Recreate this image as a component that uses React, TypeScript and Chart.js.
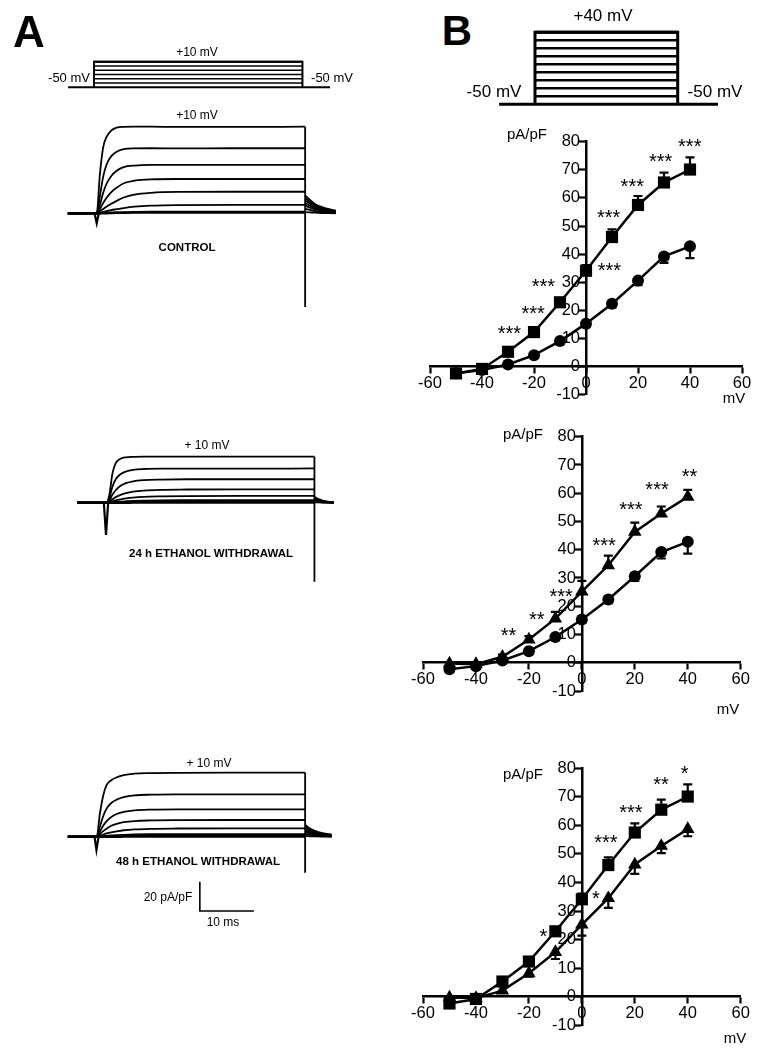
import React, { useEffect, useRef } from "react";
import { Chart, registerables } from "chart.js";

Chart.register(...registerables);

const FONT = '"Liberation Sans", Arial, Helvetica, sans-serif';

// ---------------- Panel B : current density vs voltage (pA/pF) ----------------
const voltages = [-50, -40, -30, -20, -10, 0, 10, 20, 30, 40];
const controlIV = [-2.3, -1.2, 0.8, 4.1, 9.1, 15.3, 22.4, 30.6, 39.2, 42.8];
const controlSEM = [0.4, 0.4, 0.5, 0.8, 1.0, 1.2, 1.3, 1.6, 2.3, 4.2];
const withdrawal24IV = [-0.3, -0.5, 2.1, 8.2, 15.6, 25.2, 34.5, 46.3, 52.8, 58.7];
const withdrawal24SEM = [0.5, 0.5, 0.8, 1.2, 2.4, 3.8, 3.4, 3.3, 2.5, 2.5];
const withdrawal48IV = [-2.4, -0.8, 5.3, 12.3, 22.9, 34.1, 46.1, 57.5, 65.5, 70.1];
const withdrawal48SEM = [0.5, 0.5, 0.7, 0.8, 1.0, 2.0, 2.7, 3.2, 3.5, 4.3];

const ivXRange = [-60, 60];
const ivXStep = 20;
const ivYRange = [-10, 80];
const ivYStep = 10;

// significance marks: [voltage, pA/pF, label]
const starsControlVs48: [number, number, string][] = [
  [-29.5, 13.6, "***"], [-20.3, 20.7, "***"], [-16.4, 30.4, "***"], [9.0, 36.1, "***"],
  [8.7, 54.7, "***"], [17.8, 65.8, "***"], [28.7, 74.6, "***"], [39.9, 80.0, "***"],
];
const starsControlVs24: [number, number, string][] = [
  [-27.7, 11.3, "**"], [-17.0, 17.2, "**"], [-7.8, 25.1, "***"], [8.4, 43.4, "***"],
  [18.5, 55.8, "***"], [28.4, 62.9, "***"], [40.7, 67.6, "**"],
];
const stars24Vs48: [number, number, string][] = [
  [-14.5, 22.8, "*"], [5.3, 36.0, "*"], [9.1, 55.8, "***"], [18.5, 66.3, "***"],
  [29.9, 76.1, "**"], [38.8, 80.0, "*"],
];

// ---------------- Voltage protocols (mV) ----------------
const holdingPotential = -50;
const protocolALevels = [-40, -30, -20, -10, 0, 10];
const protocolBLevels = [-40, -30, -20, -10, 0, 10, 20, 30, 40];
const protocolAHoldT = [-4.8, 43.7];
const protocolBHoldT = [-9.7, 49.5];
const stepEnd = 38.6; // ms

// ---------------- Panel A : current traces (ms, pA/pF) ----------------
const stepTimes = [-5.35, 0, 0.6, 1.2, 1.8, 2.7, 3.7, 5, 7, 10, 15, 25, 38.6];

const controlTraces = [
  [0, 0, 27, 45, 52, 56.5, 58.5, 59.0, 59.1, 59.1, 59.0, 59.0, 59.1],
  [0, 0, 12, 25, 33, 39, 42, 43.8, 44.3, 44.4, 44.3, 44.4, 44.4],
  [0, 0, 6, 14, 20, 25.5, 29, 31.5, 32.6, 33.0, 33.0, 33.0, 33.0],
  [0, 0, 3, 7, 10.5, 14.5, 17.5, 20.5, 22.3, 23.2, 23.4, 23.4, 23.4],
  [0, 0, 1.5, 3, 4.5, 6.5, 8.5, 10.8, 12.8, 14.0, 14.6, 14.7, 14.7],
  [0, 0, 0.5, 1, 1.5, 2.2, 2.8, 3.6, 4.5, 5.2, 5.6, 5.7, 5.7],
  [0, 0, 0, 0.1, 0.2, 0.3, 0.4, 0.5, 0.6, 0.7, 0.7, 0.7, 0.7],
];
const controlTailTimes = [38.6, 39.5, 40.4, 41.7, 44.3];
const controlTails = [
  [12.3, 9.1, 6.4, 4.3, 1.8],
  [10.5, 7.8, 5.5, 3.6, 1.4],
  [8.8, 6.5, 4.6, 3.0, 1.1],
  [7.0, 5.2, 3.7, 2.4, 0.8],
  [5.2, 3.9, 2.8, 1.8, 0.5],
  [3.0, 2.3, 1.6, 1.0, 0.2],
  [0.8, 0.6, 0.4, 0.2, 0.0],
];
const controlOnsetT = [-0.4, 0, 0.4];
const controlOnsetI = [0, -6.8, 0];
const controlOffsetI = [59.1, -64];

const w24Traces = [
  [0, 0, 5, 20, 27, 30, 31, 31.3, 31.4, 31.4, 31.4, 31.4, 31.4],
  [0, 0, 3, 11, 16, 19.5, 21.3, 22.4, 23.0, 23.2, 23.2, 23.2, 23.4],
  [0, 0, 1.5, 5.5, 8.5, 11.5, 13.3, 14.6, 15.4, 15.8, 16.0, 16.0, 16.0],
  [0, 0, 0.7, 2.3, 3.8, 5.3, 6.5, 7.5, 8.3, 8.8, 9.0, 9.1, 9.1],
  [0, 0, 0.3, 1, 1.6, 2.3, 2.9, 3.5, 4.0, 4.3, 4.5, 4.6, 4.6],
  [0, 0, 0.1, 0.3, 0.5, 0.8, 1.0, 1.2, 1.4, 1.6, 1.7, 1.8, 1.8],
  [0, 0, 0, 0, 0.1, 0.1, 0.1, 0.2, 0.2, 0.3, 0.3, 0.3, 0.3],
];
const w24TailTimes = [38.6, 39.2, 40, 41, 42.2];
const w24Tails = [
  [4.1, 2.6, 1.6, 0.8, 0.3],
  [3.4, 2.2, 1.3, 0.6, 0.2],
  [2.7, 1.8, 1.0, 0.5, 0.1],
  [2.0, 1.3, 0.8, 0.4, 0.1],
  [1.4, 0.9, 0.5, 0.3, 0.0],
  [0.8, 0.5, 0.3, 0.1, 0.0],
  [0.3, 0.2, 0.1, 0.0, 0.0],
];
const w24OnsetT = [-0.4, 0, 0.4];
const w24OnsetI = [0, -22, 0];
const w24OffsetI = [31.4, -54];

const w48Traces = [
  [0, 0, 16, 28, 35, 38.5, 40.5, 42, 43, 43.4, 43.6, 43.7, 43.7],
  [0, 0, 7, 14, 19, 23, 25.3, 27, 28.2, 28.7, 28.9, 28.9, 28.9],
  [0, 0, 3.5, 7.5, 10.5, 13.5, 15.5, 17, 18, 18.5, 18.7, 18.7, 18.7],
  [0, 0, 1.8, 3.8, 5.5, 7.5, 8.8, 9.9, 10.7, 11.1, 11.3, 11.4, 11.4],
  [0, 0, 0.7, 1.5, 2.2, 3, 3.7, 4.4, 5, 5.4, 5.6, 5.7, 5.7],
  [0, 0, 0.2, 0.4, 0.6, 0.9, 1.1, 1.3, 1.5, 1.7, 1.8, 1.8, 1.8],
  [0, 0, 0, 0, 0.1, 0.1, 0.1, 0.2, 0.2, 0.3, 0.3, 0.3, 0.3],
];
const w48TailTimes = [38.6, 39.5, 40.5, 41.8, 43.5];
const w48Tails = [
  [8.0, 5.5, 3.8, 2.5, 1.5],
  [6.6, 4.6, 3.1, 2.0, 1.1],
  [5.3, 3.7, 2.5, 1.6, 0.8],
  [4.0, 2.8, 1.9, 1.2, 0.6],
  [2.8, 2.0, 1.3, 0.8, 0.3],
  [1.6, 1.1, 0.7, 0.4, 0.1],
  [0.4, 0.3, 0.2, 0.1, 0.0],
];
const w48OnsetT = [-0.4, -0.05, 0.35];
const w48OnsetI = [0, -9, 0];
const w48OffsetI = [43.7, -24.6];

// scale bar: 10 ms x 20 pA/pF
const scaleBarT = [19.1, 19.1, 29.1];
const scaleBarI = [-30.7, -50.7, -50.7];

// ---------------- helpers ----------------
const pts = (xs: number[], ys: number[]) => xs.map((x, i) => ({ x, y: ys[i] }));

function axisRange(v0: number, p0: number, pxPerUnit: number, start: number, size: number, vertical: boolean) {
  if (vertical) return { min: v0 + (p0 - (start + size)) / pxPerUnit, max: v0 + (p0 - start) / pxPerUnit };
  return { min: v0 + (start - p0) / pxPerUnit, max: v0 + (start + size - p0) / pxPerUnit };
}

function lineDs(data: any[], width: number, extra: any = {}) {
  return {
    data, borderColor: "#000", backgroundColor: "#000", borderWidth: width,
    pointRadius: 0, fill: false, clip: false, tension: 0, ...extra,
  };
}

type Box = { left: number; top: number; width: number; height: number };

function plainConfig(xr: any, yr: any, datasets: any[]) {
  return {
    type: "line",
    data: { datasets },
    options: {
      animation: false, responsive: false, maintainAspectRatio: false, events: [],
      layout: { padding: 0 },
      plugins: { legend: { display: false }, tooltip: { enabled: false } },
      scales: {
        x: { type: "linear", display: false, ...xr },
        y: { type: "linear", display: false, ...yr },
      },
    },
  } as any;
}

const PX_PER_MS = 5.4;
const PX_PER_PAPF = 1.465;

function traceConfig(box: Box, onsetPx: number, baselinePx: number, traces: number[][], tailTimes: number[], tails: number[][], onT: number[], onI: number[], offI: number[], extra: any[] = []) {
  const xr = axisRange(0, onsetPx, PX_PER_MS, box.left, box.width, false);
  const yr = axisRange(0, baselinePx, PX_PER_PAPF, box.top, box.height, true);
  const ds: any[] = [];
  traces.forEach((vals, i) => ds.push(lineDs(pts(stepTimes, vals), i === traces.length - 1 ? 2.8 : 1.8, { cubicInterpolationMode: "monotone" })));
  tails.forEach((vals) => ds.push(lineDs(pts(tailTimes, vals), 1.8, { cubicInterpolationMode: "monotone" })));
  ds.push(lineDs(pts(onT, onI), 2.2));
  ds.push(lineDs(pts([stepEnd, stepEnd], offI), 1.8));
  extra.forEach((d) => ds.push(d));
  return plainConfig(xr, yr, ds);
}

function protocolConfig(box: Box, onsetPx: number, pxPerMs: number, holdPx: number, pxPerMv: number, levels: number[], holdT: number[], outer: number, inner: number) {
  const xr = axisRange(0, onsetPx, pxPerMs, box.left, box.width, false);
  const yr = axisRange(holdingPotential, holdPx, pxPerMv, box.top, box.height, true);
  const top = Math.max(...levels);
  const ds: any[] = [];
  ds.push(lineDs(pts(holdT, [holdingPotential, holdingPotential]), outer));
  ds.push(lineDs(pts([0, 0, stepEnd, stepEnd], [holdingPotential, top, top, holdingPotential]), outer));
  levels.forEach((L) => ds.push(lineDs(pts([0, stepEnd], [L, L]), L === top ? outer : inner)));
  return plainConfig(xr, yr, ds);
}

const errorBarPlugin = {
  id: "ivErrorBars",
  beforeDatasetsDraw(chart: any, _args: any, opts: any) {
    const { ctx, scales } = chart;
    const x = scales.x, y = scales.y;
    ctx.save();
    ctx.strokeStyle = "#000";
    ctx.lineWidth = 2.2;
    (opts.bars || []).forEach((b: any) => {
      b.values.forEach((v: number, i: number) => {
        const end = b.dir === "up" ? v + b.errors[i] : v - b.errors[i];
        const px = x.getPixelForValue(voltages[i]);
        const p1 = y.getPixelForValue(v);
        const p2 = y.getPixelForValue(end);
        ctx.beginPath();
        ctx.moveTo(px, p1);
        ctx.lineTo(px, p2);
        ctx.moveTo(px - 4.5, p2);
        ctx.lineTo(px + 4.5, p2);
        ctx.stroke();
      });
    });
    ctx.restore();
  },
};

const STAR_SIZE = 20;
const starPlugin = {
  id: "ivStars",
  afterDatasetsDraw(chart: any, _args: any, opts: any) {
    const { ctx, scales } = chart;
    ctx.save();
    ctx.fillStyle = "#000";
    ctx.font = `${STAR_SIZE}px ${FONT}`;
    ctx.textAlign = "center";
    ctx.textBaseline = "alphabetic";
    (opts.marks || []).forEach((m: [number, number, string]) => {
      ctx.fillText(m[2], scales.x.getPixelForValue(m[0]), scales.y.getPixelForValue(m[1]) + STAR_SIZE * 0.57);
    });
    ctx.restore();
  },
};

const MARKERS: any = {
  square: { pointStyle: "rect", pointRadius: 8.6 },
  circle: { pointStyle: "circle", pointRadius: 6 },
  triangle: { pointStyle: "triangle", pointRadius: 7.8 },
};

function ivConfig(box: Box, area: { left: number; right: number; top: number; bottom: number }, series: { values: number[]; errors: number[]; marker: string; dir: string }[], marks: [number, number, string][]) {
  const padding = {
    left: area.left - box.left,
    right: box.left + box.width - area.right,
    top: area.top - box.top,
    bottom: box.top + box.height - area.bottom,
  };
  const tickFont = { family: FONT, size: 16.5 };
  const grid = { drawOnChartArea: false, drawTicks: true, tickLength: 6, tickWidth: 2.2, tickColor: "#000", color: "#000" };
  const border = { display: true, color: "#000", width: 2.5 };
  return {
    type: "line",
    data: {
      datasets: series.map((s) => ({
        data: pts(voltages, s.values),
        borderColor: "#000", backgroundColor: "#000", borderWidth: 2.5,
        pointBorderWidth: 0, pointBackgroundColor: "#000", tension: 0, fill: false, clip: false,
        ...MARKERS[s.marker],
      })),
    },
    plugins: [errorBarPlugin, starPlugin],
    options: {
      animation: false, responsive: false, maintainAspectRatio: false, events: [],
      layout: { padding },
      plugins: {
        legend: { display: false }, tooltip: { enabled: false },
        ivErrorBars: { bars: series.map((s) => ({ values: s.values, errors: s.errors, dir: s.dir })) },
        ivStars: { marks },
      },
      scales: {
        x: {
          type: "linear", min: ivXRange[0], max: ivXRange[1], position: { y: 0 },
          afterFit: (s: any) => { s.height = 0; },
          ticks: { stepSize: ivXStep, color: "#000", font: tickFont, padding: 1, maxRotation: 0, autoSkip: false },
          grid, border,
        },
        y: {
          type: "linear", min: ivYRange[0], max: ivYRange[1], position: "center",
          afterFit: (s: any) => { s.width = 0; },
          ticks: { stepSize: ivYStep, color: "#000", font: tickFont, padding: 0, autoSkip: false },
          grid, border,
        },
      },
    },
  } as any;
}

function ChartCanvas({ box, make }: { box: Box; make: () => any }) {
  const ref = useRef<HTMLCanvasElement>(null);
  useEffect(() => {
    const chart = new Chart(ref.current as HTMLCanvasElement, make());
    return () => chart.destroy();
  }, []);
  return (
    <canvas
      ref={ref}
      width={box.width}
      height={box.height}
      style={{ position: "absolute", left: box.left, top: box.top, width: box.width, height: box.height }}
    />
  );
}

function Label({ x, y, text, size, bold }: { x: number; y: number; text: string; size: number; bold?: boolean }) {
  return (
    <div
      style={{
        position: "absolute", left: x, top: y, transform: "translate(-50%, -50%)",
        fontFamily: FONT, fontSize: size, fontWeight: bold ? 700 : 400, lineHeight: 1,
        whiteSpace: "nowrap", color: "#000",
      }}
    >
      {text}
    </div>
  );
}

const boxProtoA = { left: 40, top: 40, width: 310, height: 60 };
const boxProtoB = { left: 480, top: 20, width: 260, height: 95 };
const boxCtrl = { left: 40, top: 95, width: 310, height: 225 };
const box24 = { left: 40, top: 430, width: 310, height: 160 };
const box48 = { left: 40, top: 750, width: 310, height: 175 };
const boxIV1 = { left: 400, top: 120, width: 362, height: 300 };
const boxIV2 = { left: 395, top: 415, width: 367, height: 300 };
const boxIV3 = { left: 395, top: 745, width: 367, height: 305 };

export default function App() {
  return (
    <div style={{ position: "absolute", left: 0, top: 0, width: 762, height: 1050, background: "#fff", overflow: "hidden" }}>
      <ChartCanvas box={boxProtoA} make={() => protocolConfig(boxProtoA, 94, PX_PER_MS, 87.3, 0.4267, protocolALevels, protocolAHoldT, 2, 1.5)} />
      <ChartCanvas box={boxProtoB} make={() => protocolConfig(boxProtoB, 535, 3.697, 104.3, 0.8, protocolBLevels, protocolBHoldT, 3, 2.6)} />
      <ChartCanvas box={boxCtrl} make={() => traceConfig(boxCtrl, 96.7, 213.3, controlTraces, controlTailTimes, controlTails, controlOnsetT, controlOnsetI, controlOffsetI)} />
      <ChartCanvas box={box24} make={() => traceConfig(box24, 106, 502.7, w24Traces, w24TailTimes, w24Tails, w24OnsetT, w24OnsetI, w24OffsetI)} />
      <ChartCanvas box={box48} make={() => traceConfig(box48, 96.7, 836.7, w48Traces, w48TailTimes, w48Tails, w48OnsetT, w48OnsetI, w48OffsetI, [lineDs(pts(scaleBarT, scaleBarI), 1.6)])} />
      <ChartCanvas box={boxIV1} make={() => ivConfig(boxIV1, { left: 430, right: 742, top: 141.7, bottom: 394.8 }, [
        { values: withdrawal48IV, errors: withdrawal48SEM, marker: "square", dir: "up" },
        { values: controlIV, errors: controlSEM, marker: "circle", dir: "down" },
      ], starsControlVs48)} />
      <ChartCanvas box={boxIV2} make={() => ivConfig(boxIV2, { left: 423, right: 740.7, top: 436.7, bottom: 691 }, [
        { values: withdrawal24IV, errors: withdrawal24SEM, marker: "triangle", dir: "up" },
        { values: controlIV, errors: controlSEM, marker: "circle", dir: "down" },
      ], starsControlVs24)} />
      <ChartCanvas box={boxIV3} make={() => ivConfig(boxIV3, { left: 423, right: 740.7, top: 768.3, bottom: 1025.2 }, [
        { values: withdrawal48IV, errors: withdrawal48SEM, marker: "square", dir: "up" },
        { values: withdrawal24IV, errors: withdrawal24SEM, marker: "triangle", dir: "down" },
      ], stars24Vs48)} />

      <Label x={29} y={32} text="A" size={44} bold />
      <Label x={457} y={31} text="B" size={42} bold />

      <Label x={197} y={52} text="+10 mV" size={12} />
      <Label x={69} y={77} text="-50 mV" size={13} />
      <Label x={332} y={77} text="-50 mV" size={13} />
      <Label x={197} y={115} text="+10 mV" size={12} />
      <Label x={187} y={248} text="CONTROL" size={11.5} bold />

      <Label x={207} y={445} text="+ 10 mV" size={12} />
      <Label x={211} y={554} text="24 h ETHANOL WITHDRAWAL" size={11.5} bold />

      <Label x={209} y={763} text="+ 10 mV" size={12} />
      <Label x={198} y={862} text="48 h ETHANOL WITHDRAWAL" size={11.5} bold />
      <Label x={168} y={897} text="20 pA/pF" size={12} />
      <Label x={223} y={922} text="10 ms" size={12} />

      <Label x={603} y={15} text="+40 mV" size={17} />
      <Label x={494} y={91} text="-50 mV" size={17} />
      <Label x={715} y={91} text="-50 mV" size={17} />

      <Label x={527} y={133} text="pA/pF" size={15} />
      <Label x={734} y={397} text="mV" size={15} />
      <Label x={523} y={433} text="pA/pF" size={15} />
      <Label x={728} y={708} text="mV" size={15} />
      <Label x={523} y={773} text="pA/pF" size={15} />
      <Label x={735} y={1037} text="mV" size={15} />
    </div>
  );
}
